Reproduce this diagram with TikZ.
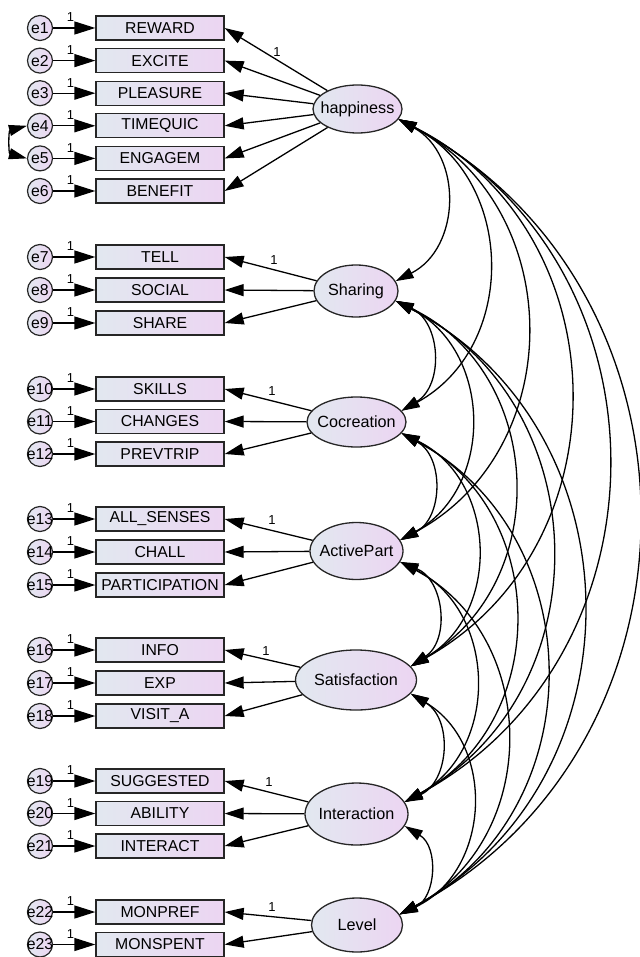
\documentclass[tikz,border=0pt]{standalone}
\usepackage{fontspec}
\setmainfont{Liberation Sans}
\usetikzlibrary{arrows.meta,shapes.geometric}
\definecolor{gl}{RGB}{226,232,240}
\definecolor{gr}{RGB}{236,213,242}
\newcommand{\mbz}[1]{\makebox[0pt]{#1}}
\begin{document}
\begin{tikzpicture}[x=1pt,y=1pt,
  ld/.style={line width=1.3pt,-{Triangle[length=19pt,width=12pt]}},
  ed/.style={line width=1.3pt,-{Triangle[length=21pt,width=13pt]}},
  cov/.style={line width=1.3pt,{Triangle[length=18pt,width=11pt]}-{Triangle[length=18pt,width=11pt]}},
  obs/.style={rectangle,draw=black!85,line width=1.3pt,minimum width=128pt,minimum height=24pt,inner sep=0pt,
    left color=gl,right color=gr,font=\fontsize{15.8}{18}\selectfont},
  err/.style={circle,draw=black!85,line width=1.2pt,minimum size=25pt,inner sep=0pt,
    left color=gl,right color=gr,font=\fontsize{15.8}{18}\selectfont},
  lat/.style={ellipse,draw=black!85,line width=1.3pt,inner sep=0pt,
    left color=gl,right color=gr,font=\fontsize{16.2}{19}\selectfont},
  one/.style={inner sep=0pt,font=\fontsize{13}{15}\selectfont}
]
\useasboundingbox (0,0) rectangle (639,-957);

% observed variables with error terms
\foreach \i/\yy/\t in {1/28/REWARD,2/60.6/EXCITE,3/93.2/PLEASURE,4/125.8/TIMEQUIC,5/158.4/ENGAGEM,6/191/BENEFIT,
  7/257/TELL,8/290/SOCIAL,9/323/SHARE,
  10/389/SKILLS,11/421.5/CHANGES,12/454/PREVTRIP,
  13/519/ALL\_SENSES,14/552/CHALL,15/585/PARTICIPATION,
  16/650/INFO,17/683/EXP,18/716/VISIT\_A,
  19/781/SUGGESTED,20/813.5/ABILITY,21/846/INTERACT,
  22/912/MONPREF,23/944.5/MONSPENT}{
  \node[obs] (x\i) at (160,-\yy) {\t};
  \node[err] (e\i) at (40,-\yy) {\mbz{e\i}};
  \draw[ed] (e\i) -- (x\i);
  \node[one] at (70.5,-\yy+10.5) {1};
}

% latent variables
\node[lat,minimum width=89pt,minimum height=48pt] (L1) at (357.5,-109) {\mbz{happiness}};
\node[lat,minimum width=84pt,minimum height=52pt] (L2) at (356,-291) {\mbz{Sharing}};
\node[lat,minimum width=99pt,minimum height=50pt] (L3) at (356.5,-422) {\mbz{Cocreation}};
\node[lat,minimum width=93pt,minimum height=57pt] (L4) at (356.5,-551) {\mbz{ActivePart}};
\node[lat,minimum width=121pt,minimum height=60pt] (L5) at (356,-680) {\mbz{Satisfaction}};
\node[lat,minimum width=103pt,minimum height=62pt] (L6) at (356.5,-814) {\mbz{Interaction}};
\node[lat,minimum width=91pt,minimum height=54pt] (L7) at (357,-925) {\mbz{Level}};

% loadings
\foreach \j in {1,...,6} \draw[ld] (L1) -- (x\j.east);
\foreach \j in {7,8,9} \draw[ld] (L2) -- (x\j.east);
\foreach \j in {10,11,12} \draw[ld] (L3) -- (x\j.east);
\foreach \j in {13,14,15} \draw[ld] (L4) -- (x\j.east);
\foreach \j in {16,17,18} \draw[ld] (L5) -- (x\j.east);
\foreach \j in {19,20,21} \draw[ld] (L6) -- (x\j.east);
\foreach \j in {22,23} \draw[ld] (L7) -- (x\j.east);

\node[one] at (277,-52) {1};
\node[one] at (274,-260) {1};
\node[one] at (272,-391) {1};
\node[one] at (272,-520) {1};
\node[one] at (266,-651) {1};
\node[one] at (269,-782) {1};
\node[one] at (272,-907) {1};

% covariances among latent variables
\foreach \a in {1,...,6}{
  \pgfmathtruncatemacro\s{\a+1}
  \foreach \b in {\s,...,7}{
    \draw[cov] (L\a.-14) to[bend left=62,looseness=1.16] (L\b.14);
  }
}

% error covariance
\draw[cov] (e4.west) to[out=195,in=165,looseness=1.5] (e5.west);
\end{tikzpicture}
\end{document}
